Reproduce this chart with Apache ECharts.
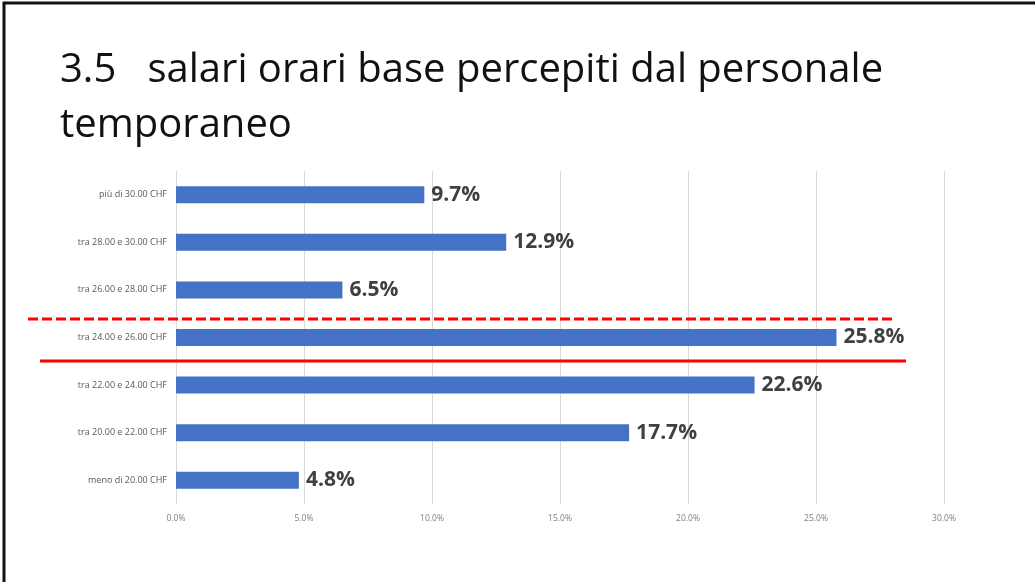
<!DOCTYPE html>
<html>
<head>
<meta charset="utf-8">
<script src="https://cdn.jsdelivr.net/npm/echarts@6/dist/echarts.min.js"></script>
<style>
  html, body { margin: 0; padding: 0; background: #fff; }
  #main { width: 1035px; height: 582px; }
</style>
</head>
<body>
<div id="main"></div>
<script>
// fasce salariali, dall'alto verso il basso come nel grafico
var categories = [
  'meno di 20.00 CHF',
  'tra 20.00 e 22.00 CHF',
  'tra 22.00 e 24.00 CHF',
  'tra 24.00 e 26.00 CHF',
  'tra 26.00 e 28.00 CHF',
  'tra 28.00 e 30.00 CHF',
  'più di 30.00 CHF'
];
var quote = [4.8, 17.7, 22.6, 25.8, 6.5, 12.9, 9.7];

var chart = echarts.init(document.getElementById('main'));

var option = {
  animation: false,
  title: {
    text: '3.5   salari orari base percepiti dal personale\ntemporaneo',
    left: 55,
    top: 38,
    textStyle: {
      fontFamily: 'Open Sans',
      fontWeight: 'normal',
      fontSize: 40,
      lineHeight: 55,
      color: '#111'
    }
  },
  grid: {
    left: 176,
    right: 91,
    top: 171,
    bottom: 78,
    containLabel: false
  },
  xAxis: {
    type: 'value',
    min: 0,
    max: 30,
    interval: 5,
    axisLine: { show: false },
    axisTick: { show: false },
    splitLine: { lineStyle: { color: '#d9d9d9', width: 1 } },
    axisLabel: {
      margin: 10,
      fontSize: 8.5,
      color: '#7f7f7f',
      fontFamily: 'Open Sans',
      formatter: function (v) { return v.toFixed(1) + '%'; }
    }
  },
  yAxis: {
    type: 'category',
    data: categories,
    axisLine: { show: true, lineStyle: { color: '#d9d9d9' } },
    axisTick: { show: false },
    axisLabel: {
      margin: 9,
      fontSize: 9,
      color: '#595959',
      fontFamily: 'Open Sans'
    }
  },
  series: [{
    type: 'bar',
    data: quote,
    barWidth: 17,
    itemStyle: { color: '#4472c4' },
    label: {
      show: true,
      position: 'right',
      distance: 7,
      fontFamily: 'Open Sans',
      fontWeight: 'bold',
      fontSize: 21,
      color: '#404040',
      formatter: function (p) { return p.value.toFixed(1) + '%'; }
    }
  }]
};

chart.setOption(option);

// linee rosse di annotazione attorno alla fascia 24-26 CHF
var yBand = chart.convertToPixel({ yAxisIndex: 0 }, 3);
var yAbove = chart.convertToPixel({ yAxisIndex: 0 }, 4);
var yBelow = chart.convertToPixel({ yAxisIndex: 0 }, 2);
var yDash = Math.round(yBand - (yBand - yAbove) * 0.4);
var ySolid = Math.round((yBand + yBelow) / 2);

chart.setOption({
  graphic: [
    {
      type: 'rect',
      shape: { x: 4, y: 3, width: 1040, height: 600 },
      style: { fill: 'none', stroke: '#111', lineWidth: 3 },
      silent: true
    },
    {
      type: 'line',
      shape: { x1: 28, y1: yDash + 1, x2: 895, y2: yDash + 1 },
      style: { stroke: '#ff0000', lineWidth: 3, lineDash: [10, 4] },
      z: 10
    },
    {
      type: 'line',
      shape: { x1: 40, y1: ySolid, x2: 906, y2: ySolid },
      style: { stroke: '#ff0000', lineWidth: 3 },
      z: 10
    }
  ]
});
</script>
</body>
</html>
